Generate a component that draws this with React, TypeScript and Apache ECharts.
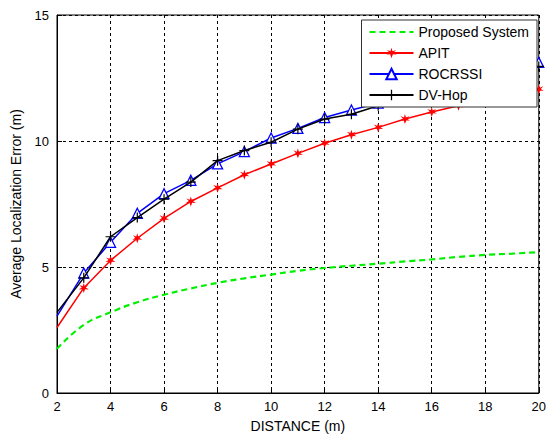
import React, { useEffect, useRef } from "react";
import * as echarts from "echarts";

const distances = [2, 3, 4, 5, 6, 7, 8, 9, 10, 11, 12, 13, 14, 15, 16, 17, 18, 19, 20];
const proposed = [1.75, 2.7, 3.2, 3.6, 3.9, 4.15, 4.37, 4.55, 4.7, 4.85, 4.96, 5.05, 5.13, 5.22, 5.3, 5.4, 5.48, 5.53, 5.59];
const apit = [2.6, 4.17, 5.26, 6.14, 6.93, 7.6, 8.14, 8.66, 9.09, 9.51, 9.91, 10.25, 10.54, 10.87, 11.15, 11.4, 11.65, 11.85, 12.05];
const rocrssi = [3.05, 4.76, 5.98, 7.13, 7.91, 8.44, 9.09, 9.58, 10.12, 10.5, 10.93, 11.23, 11.5, 11.8, 12.1, 12.4, 12.65, 12.9, 13.12];
const dvhop = [3.2, 4.57, 6.2, 6.96, 7.69, 8.37, 9.22, 9.62, 9.95, 10.47, 10.87, 11.06, 11.4, 11.75, 12.05, 12.3, 12.55, 12.8, 12.96];
const seriesNames = ["Proposed System", "APIT", "ROCRSSI", "DV-Hop"];
const xTicks = { min: 2, max: 20, interval: 2 };
const yTicks = { min: 0, max: 15, interval: 5 };

const starPath =
  "path://M5,0 L6,3.3 L9.5,2 L7,4.6 L10,6.5 L6.3,6.3 L5,10 L3.7,6.3 L0,6.5 L3,4.6 L0.5,2 L4,3.3 Z";
const plusPath =
  "path://M4.4,0 L5.6,0 L5.6,4.4 L10,4.4 L10,5.6 L5.6,5.6 L5.6,10 L4.4,10 L4.4,5.6 L0,5.6 L0,4.4 L4.4,4.4 Z";

function pairs(ys: number[], hideFirst: boolean) {
  return distances.map((x, i) =>
    hideFirst && i === 0 ? { value: [x, ys[i]], symbol: "none" } : { value: [x, ys[i]] }
  );
}

export default function App() {
  const ref = useRef<HTMLDivElement>(null);
  useEffect(() => {
    if (!ref.current) return;
    const chart = echarts.init(ref.current, undefined, { renderer: "svg" });
    const font = "Liberation Sans, Arial, sans-serif";
    chart.setOption({
      animation: false,
      backgroundColor: "#ffffff",
      textStyle: { fontFamily: font },
      grid: {
        left: 57,
        right: 4,
        top: 15,
        bottom: 42,
        show: true,
        borderColor: "#000",
        borderWidth: 1,
        backgroundColor: "transparent",
      },
      legend: {
        orient: "vertical",
        right: 12,
        top: 20,
        backgroundColor: "#ffffff",
        borderColor: "#333",
        borderWidth: 1,
        borderRadius: 0,
        padding: [5, 8, 5, 7],
        itemWidth: 44,
        itemHeight: 13,
        itemGap: 7,
        data: [
          { name: seriesNames[0], itemStyle: { opacity: 0 } },
          { name: seriesNames[1] },
          { name: seriesNames[2] },
          { name: seriesNames[3] },
        ],
        textStyle: { fontFamily: font, fontSize: 14, color: "#000" },
        z: 10,
      },
      xAxis: {
        type: "value",
        min: xTicks.min,
        max: xTicks.max,
        interval: xTicks.interval,
        name: "DISTANCE (m)",
        nameLocation: "middle",
        nameGap: 26,
        nameTextStyle: { fontFamily: font, fontSize: 14, color: "#000" },
        axisLine: { show: true, lineStyle: { color: "#000" } },
        axisTick: { show: true, inside: true, length: 5, lineStyle: { color: "#000" } },
        axisLabel: { fontFamily: font, fontSize: 13, color: "#000", margin: 7 },
        splitLine: { show: true, lineStyle: { color: "#000", type: [3, 3], width: 1 } },
      },
      yAxis: {
        type: "value",
        min: yTicks.min,
        max: yTicks.max,
        interval: yTicks.interval,
        name: "Average Localization Error (m)",
        nameLocation: "middle",
        nameGap: 34,
        nameTextStyle: { fontFamily: font, fontSize: 14, color: "#000" },
        axisLine: { show: true, lineStyle: { color: "#000" } },
        axisTick: { show: true, inside: true, length: 5, lineStyle: { color: "#000" } },
        axisLabel: { fontFamily: font, fontSize: 13, color: "#000", margin: 8 },
        splitLine: { show: true, lineStyle: { color: "#000", type: [3, 3], width: 1 } },
      },
      series: [
        {
          name: seriesNames[0],
          type: "line",
          data: pairs(proposed, false),
          smooth: true,
          showSymbol: false,
          symbol: "none",
          lineStyle: { color: "#00f000", width: 2.2, type: [6, 4] },
          itemStyle: { color: "#00f000" },
          z: 2,
        },
        {
          name: seriesNames[1],
          type: "line",
          data: pairs(apit, true),
          symbol: starPath,
          symbolSize: 10,
          lineStyle: { color: "#ff0000", width: 1.5 },
          itemStyle: { color: "#ff0000" },
          z: 3,
        },
        {
          name: seriesNames[2],
          type: "line",
          data: pairs(rocrssi, true),
          symbol: "triangle",
          symbolSize: 10,
          lineStyle: { color: "#0000ff", width: 1.5 },
          itemStyle: { color: "#ffffff", borderColor: "#0000ff", borderWidth: 1.3 },
          z: 3,
        },
        {
          name: seriesNames[3],
          type: "line",
          data: pairs(dvhop, true),
          symbol: plusPath,
          symbolSize: 10,
          lineStyle: { color: "#000000", width: 1.5 },
          itemStyle: { color: "#000000" },
          z: 4,
        },
      ],
    });
    return () => chart.dispose();
  }, []);
  return <div ref={ref} style={{ width: 549, height: 438, position: "absolute", left: 0, top: 0 }} />;
}
